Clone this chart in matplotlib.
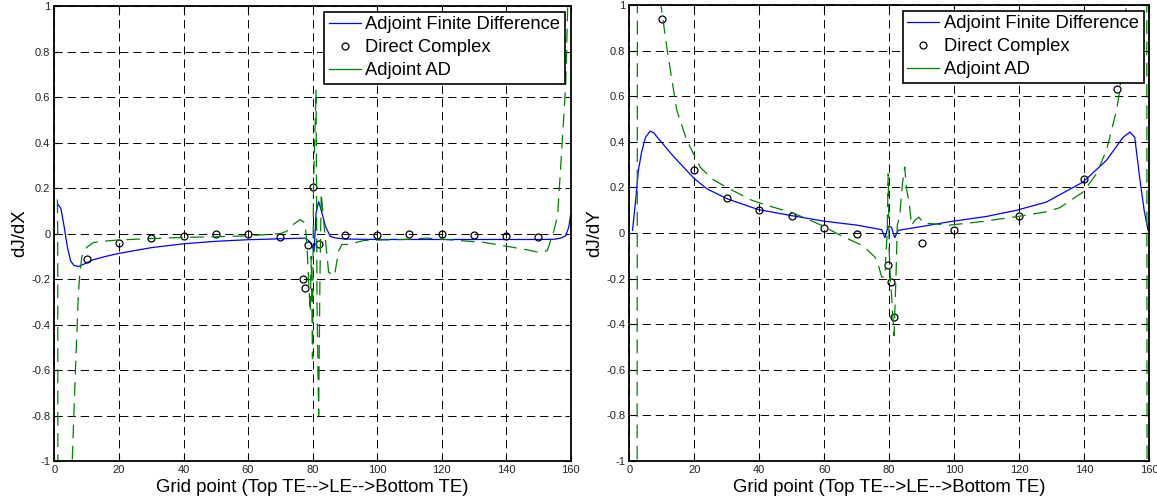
import matplotlib.pyplot as plt

plt.rcParams['font.family'] = ['Liberation Sans', 'DejaVu Sans']

# ---- dJ/dX panel ----
fd_x_X = [1, 2, 3, 4, 5, 6, 7.5, 9, 12, 16, 20, 30, 40, 50, 60, 70, 77.7, 79, 79.8, 80.5,
          81.1, 81.9, 82.7, 84, 85.5, 87, 90, 100, 120, 140, 150, 155, 157, 158.5, 159.5, 160]
fd_y_X = [0.13, 0.11, 0.03, -0.06, -0.12, -0.14, -0.145, -0.135, -0.115, -0.1, -0.087, -0.062,
          -0.045, -0.034, -0.027, -0.023, -0.02, -0.033, -0.05, -0.078,
          0.09, 0.14, 0.104, 0.032, -0.012, -0.019, -0.024, -0.026, -0.026, -0.026, -0.026,
          -0.025, -0.02, -0.01, 0.03, 0.08]

dc_x_X = [10, 20, 30, 40, 50, 60, 70, 77, 77.8, 78.7, 80, 82, 90, 100, 110, 120, 130, 140, 150]
dc_y_X = [-0.11, -0.04, -0.02, -0.012, -0.003, 0.0, -0.016, -0.2, -0.238, -0.052, 0.206, -0.046,
          -0.006, -0.006, 0.0, 0.0, -0.006, -0.009, -0.014]

ad_x_X = [0.9, 1.0, 1.05, 5.4, 5.5, 6.5, 7.3, 7.8, 8.5, 10, 12, 14, 20, 30, 40, 50, 60, 65, 70,
          72, 74, 76.2, 77.7, 78.3, 78.6, 79.3, 79.6, 80.0, 80.3, 81.1, 81.4, 81.9, 82.3, 82.7,
          83.7, 85, 86.8, 88.1, 89.1, 91.2, 96, 108, 115.5, 129.5, 132, 146, 150.7, 152.8,
          154.8, 156, 157.2, 158.5, 159.5]
ad_y_X = [0.15, 0.0, -1.3, -1.3, -1.0, -0.6, -0.3, -0.18, -0.1, -0.06, -0.04, -0.035, -0.028,
          -0.022, -0.017, -0.014, -0.01, -0.005, 0.0,
          0.01, 0.04, 0.061, 0.047, -0.055, -0.15, -0.345, -0.1, -0.55, 0.2, 0.633, -0.3, -0.8,
          -0.2, 0.177, 0.017, -0.17, -0.185, -0.077, -0.048, -0.048, -0.03, -0.026, -0.02,
          -0.035, -0.036, -0.07, -0.084, -0.075, 0.01, 0.08, 0.35, 0.65, 1.2]

# ---- dJ/dY panel ----
fd_x_Y = [1, 2, 2.8, 3.8, 5, 6.4, 7.5, 9.4, 13.5, 20, 23.8, 30, 39.7, 49.4, 60, 70, 77.7,
          78.7, 79.7, 80.7, 81.7, 82.8, 90.5, 98.7, 110, 119.2, 128.4, 139.7, 146.9, 152,
          154.1, 155.6, 157.1, 158.5, 159.7]
fd_y_Y = [0.012, 0.15, 0.275, 0.356, 0.42, 0.447, 0.44, 0.407, 0.338, 0.239, 0.195, 0.151,
          0.103, 0.078, 0.052, 0.035, 0.015, -0.02, 0.03, 0.026, -0.02, 0.012, 0.03, 0.05,
          0.073, 0.1, 0.136, 0.224, 0.319, 0.42, 0.443, 0.42, 0.246, 0.1, 0.012]

dc_x_Y = [10, 20, 30, 40, 50, 60, 70, 79.7, 80.6, 81.5, 90, 100, 120, 140, 150]
dc_y_Y = [0.94, 0.278, 0.154, 0.103, 0.075, 0.024, -0.004, -0.142, -0.215, -0.369, -0.042,
          0.015, 0.073, 0.239, 0.63]

ad_x_Y = [2.4, 2.5, 9.5, 9.75, 11.7, 14.6, 17.7, 21.8, 25.3, 30, 37.7, 42.3, 50, 54.6, 59.2,
          65, 72, 75.6, 76.4, 77.7, 78.7, 79, 79.4, 79.7, 80.0, 80.4, 80.7, 81.5, 82.1, 82.5,
          83.2, 84.1, 84.8, 85.3, 86.2, 86.9, 87.9, 89.2, 90.5, 98.7, 108.9, 119.7, 127.9,
          132.5, 139.7, 143.8, 146.9, 150, 151, 153, 154, 159.3, 159.4]
ad_y_Y = [-1.3, 1.3, 1.3, 1.0, 0.8, 0.54, 0.407, 0.29, 0.239, 0.2, 0.144, 0.122, 0.09, 0.063,
          0.034, -0.01, -0.056, -0.105, -0.127, -0.193, -0.193, -0.098, 0.0, 0.26, -0.076,
          -0.208, -0.266, -0.45, -0.193, 0.034, 0.07, 0.217, 0.29, 0.2, 0.129, 0.034, 0.056,
          0.07, 0.044, 0.035, 0.051, 0.073, 0.092, 0.111, 0.18, 0.26, 0.363, 0.539, 0.627,
          1.0, 1.3, 1.3, -1.3]

x_ticks = [0, 20, 40, 60, 80, 100, 120, 140, 160]
y_ticks = [-1, -0.8, -0.6, -0.4, -0.2, 0, 0.2, 0.4, 0.6, 0.8, 1]
y_tick_labels = ['-1', '-0.8', '-0.6', '-0.4', '-0.2', '0', '0.2', '0.4', '0.6', '0.8', '1']

xlabel = 'Grid point (Top TE-->LE-->Bottom TE)'
labels = ['Adjoint Finite Difference', 'Direct Complex', 'Adjoint AD']

fig = plt.figure(figsize=(11.57, 5.01), dpi=100)
ax0 = fig.add_axes([0.0471, 0.0798, 0.446, 0.908])
ax1 = fig.add_axes([0.5439, 0.0798, 0.4492, 0.910])

panels = [
    (ax0, fd_x_X, fd_y_X, dc_x_X, dc_y_X, ad_x_X, ad_y_X, 'dJ/dX'),
    (ax1, fd_x_Y, fd_y_Y, dc_x_Y, dc_y_Y, ad_x_Y, ad_y_Y, 'dJ/dY'),
]

for ax, fx, fy, cx, cy, gx, gy, ylab in panels:
    ax.plot(fx, fy, color='#0000ff', lw=0.9, label=labels[0])
    ax.plot(cx, cy, 'o', mfc='none', mec='black', ms=5, mew=0.9, label=labels[1])
    ax.plot(gx, gy, color='#008000', lw=0.9, dashes=(11, 6), label=labels[2])

    ax.set_xlim(0, 160)
    ax.set_ylim(-1, 1)
    ax.set_xticks(x_ticks)
    ax.set_yticks(y_ticks)
    ax.set_yticklabels(y_tick_labels)
    ax.tick_params(direction='in', top=True, right=True, length=4, labelsize=8,
                   labelcolor='#222222', pad=3)
    ax.grid(True, color='black', lw=0.7, dashes=(8.5, 5))
    for sp in ax.spines.values():
        sp.set_linewidth(1.3)
    ax.set_xlabel(xlabel, fontsize=13.4, labelpad=3)
    ax.set_ylabel(ylab, fontsize=13.4, labelpad=2)

    leg = ax.legend(loc='upper right', fontsize=13.2, frameon=True, fancybox=False,
                    framealpha=1, edgecolor='black', borderaxespad=0.3,
                    handlelength=1.75, handletextpad=0.25, labelspacing=0.33,
                    borderpad=0.25)
    leg.get_frame().set_linewidth(1.2)
    leg.legend_handles[2].set_linestyle('-')

fig.savefig('out.png', dpi=100)
